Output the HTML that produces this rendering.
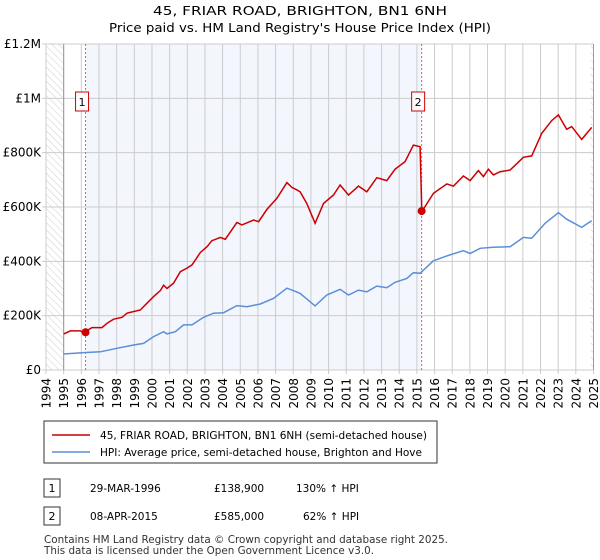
<!DOCTYPE html>
<html><head><meta charset="utf-8"><style>
body{margin:0;background:#fff;font-family:"DejaVu Sans","Liberation Sans",sans-serif;}
#wrap{position:relative;width:600px;height:560px;overflow:hidden}
svg text{font-family:"DejaVu Sans","Liberation Sans",sans-serif;}
</style></head><body>
<div id="wrap">
<svg id="svg" width="600" height="560" xmlns="http://www.w3.org/2000/svg">
<defs><pattern id="hatch" width="5" height="5" patternUnits="userSpaceOnUse" patternTransform="rotate(-45)"><line x1="0" y1="0" x2="0" y2="5" stroke="#ccc" stroke-width="1"/></pattern></defs>
<text x="300" y="15" text-anchor="middle" font-size="12.5" textLength="294" lengthAdjust="spacingAndGlyphs">45, FRIAR ROAD, BRIGHTON, BN1 6NH</text>
<text x="300" y="32" text-anchor="middle" font-size="12.5" textLength="382" lengthAdjust="spacingAndGlyphs">Price paid vs. HM Land Registry's House Price Index (HPI)</text>
<g id="plot"></g>
<rect x="44" y="421" width="393" height="42" fill="#fff" stroke="#333"/>
<line x1="52" y1="435" x2="90" y2="435" stroke="#cc0000" stroke-width="1.5"/>
<text x="100" y="439" font-size="10.5" textLength="327" lengthAdjust="spacingAndGlyphs">45, FRIAR ROAD, BRIGHTON, BN1 6NH (semi-detached house)</text>
<line x1="52" y1="452" x2="90" y2="452" stroke="#5b8fd6" stroke-width="1.5"/>
<text x="100" y="456" font-size="10.5" textLength="322" lengthAdjust="spacingAndGlyphs">HPI: Average price, semi-detached house, Brighton and Hove</text>
<g>
<rect x="44" y="479" width="16" height="18" fill="#fff" stroke="#333"/><text x="52" y="492" text-anchor="middle" font-size="11">1</text>
<text x="90" y="492" font-size="10.5">29-MAR-1996</text><text x="214" y="492" font-size="10.5">£138,900</text><text x="296" y="492" font-size="10.5">130% ↑ HPI</text></g>
<g>
<rect x="44" y="507" width="16" height="18" fill="#fff" stroke="#333"/><text x="52" y="520" text-anchor="middle" font-size="11">2</text>
<text x="90" y="520" font-size="10.5">08-APR-2015</text><text x="214" y="520" font-size="10.5">£585,000</text><text x="303" y="520" font-size="10.5">62% ↑ HPI</text></g>
<text x="44" y="543" font-size="10.5" fill="#333" textLength="404" lengthAdjust="spacingAndGlyphs">Contains HM Land Registry data © Crown copyright and database right 2025.</text>
<text x="44" y="554" font-size="10.5" fill="#333" textLength="330" lengthAdjust="spacingAndGlyphs">This data is licensed under the Open Government Licence v3.0.</text>
</svg></div>
<script>
const yTicks=[0,200,400,600,800,1000,1200];
const yTickLabels=["£0","£200K","£400K","£600K","£800K","£1M","£1.2M"];
const xTicks=[1994,1995,1996,1997,1998,1999,2000,2001,2002,2003,2004,2005,2006,2007,2008,2009,2010,2011,2012,2013,2014,2015,2016,2017,2018,2019,2020,2021,2022,2023,2024,2025];
const saleYears=[1996.24,2015.27];
const salePrices=[138.9,585];
const saleLabels=["1","2"];
const priceZ=[[190,133],[210,144],[240,144],[250,138],[275,156],[305,156],[320,172],[340,187],[365,194],[380,209],[420,221],[440,246],[460,270],[480,292],[490,312],[500,300],[520,320],[540,362],[560,375],[575,387],[600,432],[620,454],[635,476],[660,488],[675,481],[710,543],[725,534],[760,552],[775,546],[800,591],[830,632],[860,690],[875,672],[890,663]];
const priceZ2=[[0,656],[20,613],[45,540],[70,613],[100,644],[120,681],[145,644],[175,677],[200,656],[230,708],[260,697],[285,739],[315,767],[340,828],[360,822],[365,583],[400,650],[440,685],[460,677],[490,714],[510,697],[535,734],[550,712],[565,739],[580,718],[600,730],[630,736],[670,783],[695,788],[725,871],[755,918],[775,939],[800,886],[815,896],[845,849],[875,893]];
const hpiZ=[[190,59],[250,64],[300,67],[350,80],[400,92],[430,98],[460,123],[490,141],[500,133],[525,141],[550,166],[575,166],[610,194],[640,209],[670,211],[710,237],[740,233],[780,243],[820,264],[860,301],[880,292]];
const hpiZ2=[[0,282],[45,236],[80,276],[120,297],[145,276],[175,294],[200,288],[230,309],[260,303],[285,323],[320,337],[340,358],[360,356],[400,402],[440,420],[490,439],[510,429],[540,448],[580,452],[630,454],[670,488],[695,485],[735,540],[775,579],[800,555],[845,525],[875,550]];
const toYear1=z=>1995+(z-190)/53, toYear2=z=>2008.39+z/53;
const priceYears=priceZ.map(p=>toYear1(p[0])).concat(priceZ2.map(p=>toYear2(p[0])));
const priceValues=priceZ.map(p=>p[1]).concat(priceZ2.map(p=>p[1]));
const hpiYears=hpiZ.map(p=>toYear1(p[0])).concat(hpiZ2.map(p=>toYear2(p[0])));
const hpiValues=hpiZ.map(p=>p[1]).concat(hpiZ2.map(p=>p[1]));

const X0=46,X1=593.5,Y0=370,Y1=44;
const xs=y=>X0+(y-1994)/(2025-1994)*(X1-X0);
const ys=v=>Y0-v/1200*(Y0-Y1);
const NS="http://www.w3.org/2000/svg";
const g=document.getElementById('plot');
function mk(t,a){const e=document.createElementNS(NS,t);for(const k in a)e.setAttribute(k,a[k]);g.appendChild(e);return e;}
let e;
e=mk('rect',{x:X0,y:Y1,width:xs(1995)-X0,height:Y0-Y1,fill:'url(#hatch)'});


e=mk('rect',{x:X1-3,y:Y1,width:3,height:Y0-Y1,fill:'url(#hatch)'});


e=mk('rect',{x:xs(saleYears[0]),y:Y1,width:xs(saleYears[1])-xs(saleYears[0]),height:Y0-Y1,fill:'#f3f6fd'});


xTicks.forEach(t=>{
 e=mk('line',{x1:xs(t),x2:xs(t),y1:Y1,y2:Y0+4,stroke:'#ccc','stroke-width':1});
 
 
 e=mk('text',{x:xs(t)+4.5,y:Y0+8,'font-size':12,transform:`rotate(-90 ${xs(t)+4.5} ${Y0+8})`,'text-anchor':'end'});
 e.textContent=t;
 
 
});
yTicks.forEach((t,i)=>{
 e=mk('line',{x1:X0-4,x2:X1,y1:ys(t),y2:ys(t),stroke:'#ccc','stroke-width':1});
 
 
 e=mk('text',{x:X0-5,y:ys(t)+4,'font-size':12,'text-anchor':'end'});
 e.textContent=yTickLabels[i];
 
 
});
e=mk('line',{x1:xs(1995),x2:xs(1995),y1:Y1,y2:Y0,stroke:'#999'});


e=mk('line',{x1:X1,x2:X1,y1:Y1,y2:Y0,stroke:'#999'});


saleYears.forEach((y,i)=>{
 e=mk('line',{x1:xs(y),x2:xs(y),y1:Y1,y2:Y0,stroke:'#e06060','stroke-dasharray':'2,2'});
 
 
});
function path(xsA,vs,col,name){
 e=mk('path',{d:xsA.map((y,i)=>(i?'L':'M')+xs(y).toFixed(1)+','+ys(vs[i]).toFixed(1)).join(''),fill:'none',stroke:col,'stroke-width':1.5});
 
 
}
path(hpiYears,hpiValues,'#5b8fd6','hpi-line');
path(priceYears,priceValues,'#cc0000','price-line');
saleYears.forEach((y,i)=>{
 e=mk('circle',{cx:xs(y),cy:ys(salePrices[i]),r:4,fill:'#cc0000'});
 
 
 e=mk('rect',{x:xs(y)-10,y:92,width:13,height:19,fill:'#fff',stroke:'#cc0000'});
 
 
 e=mk('text',{x:xs(y)-3.5,y:106,'font-size':11,'text-anchor':'middle'});
 e.textContent=saleLabels[i];
 
 
});
</script>
</body></html>
